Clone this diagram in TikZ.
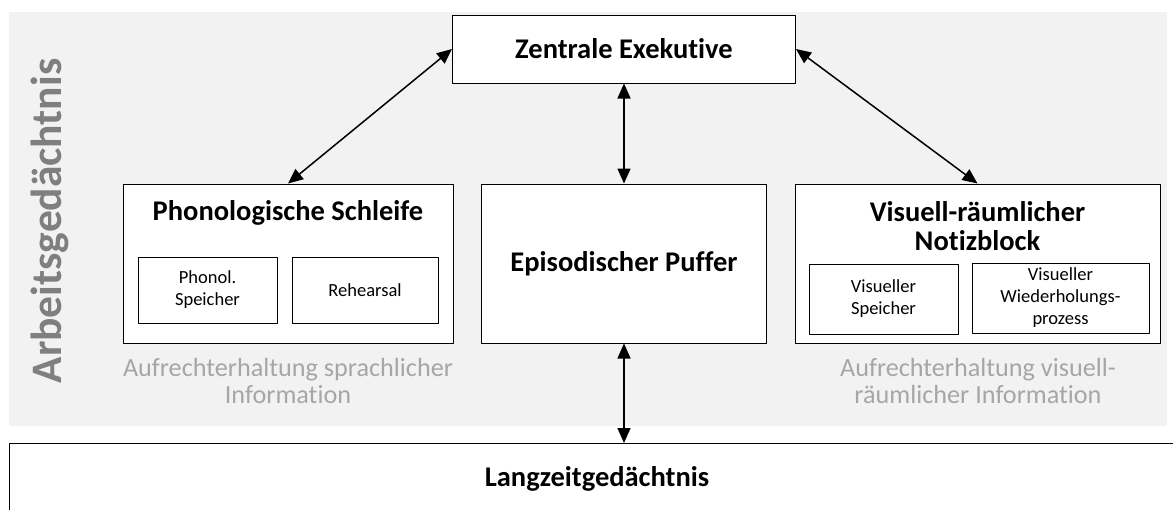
\documentclass[tikz,border=0pt]{standalone}
\usepackage{fontspec}
\setmainfont{Carlito}[Ligatures=CommonOff]
\usetikzlibrary{arrows.meta}
\definecolor{bggray}{HTML}{F2F2F2}
\definecolor{capgray}{HTML}{A6A6A6}
\definecolor{labgray}{HTML}{7F7F7F}
\tikzset{
  box/.style={draw=black, line width=1pt, fill=white, inner sep=0pt},
  subbox/.style={box, line width=0.9pt, align=center, font=\fontsize{18.5}{22}\selectfont},
  title/.style={font=\bfseries\fontsize{28.5}{29}\selectfont, align=center},
  caption/.style={text=capgray, font=\fontsize{26.2}{27}\selectfont, align=center},
  link/.style={<->, line width=1.5pt}
}
\begin{document}
\begin{tikzpicture}[x=1pt, y=-1pt, >={Triangle[length=15pt,width=13pt]}, line join=round]
\useasboundingbox (0,0) rectangle (1173,509);
\fill[bggray] (9,12) rectangle (1167,426);
\node[rotate=90, text=labgray, font=\bfseries\fontsize{43.5}{44}\selectfont] (arbeit) at (50,221) {Arbeitsgedächtnis};
\node[box, title, minimum width=343, minimum height=68] (zentral) at (624,49) {Zentrale Exekutive};
\node[box, minimum width=330, minimum height=159] (phon) at (288,263.5) {};
\node[title] (phontitle) at (288,213) {Phonologische Schleife};
\node[subbox, minimum width=139, minimum height=66] (speicher) at (207.5,290) {Phonol.\\Speicher};
\node[subbox, minimum width=146, minimum height=66] (rehearsal) at (365,290) {Rehearsal};
\node[box, title, minimum width=285, minimum height=159] (puffer) at (624,263.5) {Episodischer Puffer};
\node[box, minimum width=365, minimum height=159] (skizze) at (977.5,263.5) {};
\node[title] (skizzetitle) at (977.5,226) {Visuell-räumlicher\\Notizblock};
\node[subbox, minimum width=149, minimum height=70] (visspeicher) at (883.5,299) {Visueller\\Speicher};
\node[subbox, minimum width=177, minimum height=70] (wiederholung) at (1060.5,298) {Visueller\\Wiederholungs-\\prozess};
\node[caption] (phoncap) at (288,381) {Aufrechterhaltung sprachlicher\\Information};
\node[caption] (skizzecap) at (978,381) {Aufrechterhaltung visuell-\\räumlicher Information};
\node[box, minimum width=1240, minimum height=100, anchor=north west] (ltm) at (9,443) {};
\node[title] (ltmtext) at (597,479) {Langzeitgedächtnis};
\draw[link] (zentral.west) -- (phon.north);
\draw[link] (zentral.east) -- (skizze.north);
\draw[link] (zentral.south) -- (puffer.north);
\draw[link] (puffer.south) -- (puffer.south |- ltm.north);
\end{tikzpicture}
\end{document}
